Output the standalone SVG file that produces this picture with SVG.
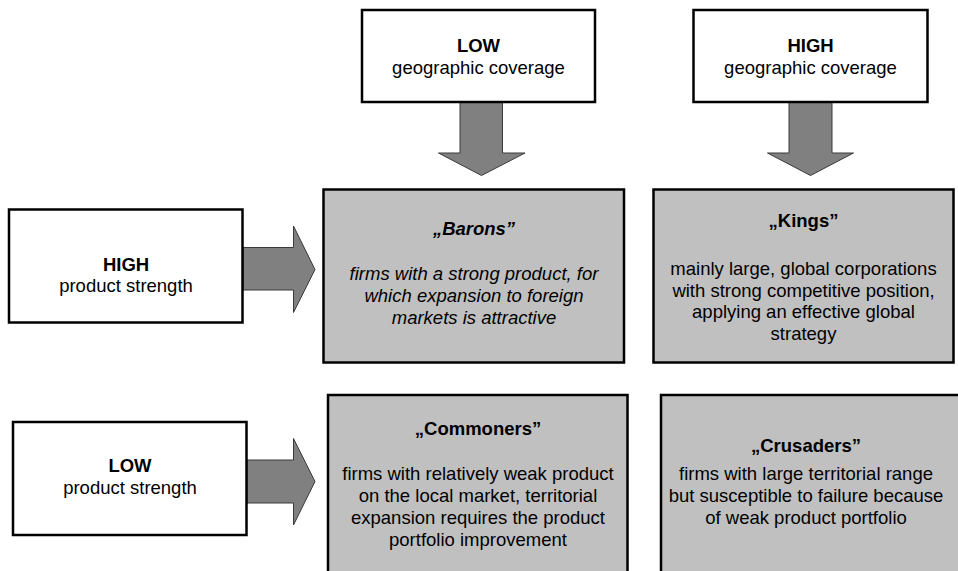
<svg xmlns="http://www.w3.org/2000/svg" width="958" height="571" viewBox="0 0 958 571">
  <style>
    .axis { fill: #ffffff; stroke: #000000; stroke-width: 2.5; }
    .cell { fill: #c0c0c0; stroke: #000000; stroke-width: 2.5; }
    .arrow { fill: #808080; stroke: #3a3a3a; stroke-width: 1; }
    text { font-family: "Liberation Sans", Arial, sans-serif; font-size: 18.5px; fill: #000000; text-anchor: middle; }
    .b { font-weight: bold; }
    .i { font-style: italic; }
  </style>
  <rect width="958" height="571" fill="#ffffff"/>

  <!-- connectors: wide block arrows -->
  <g id="connectors">
    <path class="arrow" d="M460,102 H502.5 V153 H525 L481.5,175.5 L438.5,153 H460 Z"/>
    <path class="arrow" d="M789,102 H832 V153 H853.5 L810.5,175.5 L767.5,153 H789 Z"/>
    <path class="arrow" d="M243,247.5 H293.5 V226 L315,269.5 L293.5,312.5 V290 H243 Z"/>
    <path class="arrow" d="M247,460 H293.5 V438.5 L315,481.5 L293.5,525 V503 H247 Z"/>
  </g>

  <g id="low-geo">
    <rect class="axis" x="362" y="10" width="233" height="92"/>
    <text class="b" x="478.5" y="51.5">LOW</text>
    <text x="478.5" y="74">geographic coverage</text>
  </g>

  <g id="high-geo">
    <rect class="axis" x="693.5" y="10" width="234" height="92"/>
    <text class="b" x="810.5" y="51.5">HIGH</text>
    <text x="810.5" y="74">geographic coverage</text>
  </g>

  <g id="high-product">
    <rect class="axis" x="9" y="209.5" width="233.5" height="113"/>
    <text class="b" x="126" y="270.5">HIGH</text>
    <text x="126" y="292">product strength</text>
  </g>

  <g id="low-product">
    <rect class="axis" x="13" y="422" width="233.5" height="113"/>
    <text class="b" x="130" y="471.5">LOW</text>
    <text x="130" y="493.5">product strength</text>
  </g>

  <g id="barons">
    <rect class="cell" x="323.5" y="189.5" width="300.5" height="173"/>
    <text class="b i" x="474" y="235">„Barons”</text>
    <text class="i" x="474" y="280">firms with a strong product, for</text>
    <text class="i" x="474" y="302">which expansion to foreign</text>
    <text class="i" x="474" y="324">markets is attractive</text>
  </g>

  <g id="kings">
    <rect class="cell" x="653.5" y="189.5" width="300" height="173"/>
    <text class="b" x="803.5" y="227">„Kings”</text>
    <text x="803.5" y="275">mainly large, global corporations</text>
    <text x="803.5" y="296.5">with strong competitive position,</text>
    <text x="803.5" y="318">applying an effective global</text>
    <text x="803.5" y="339.5">strategy</text>
  </g>

  <g id="commoners">
    <rect class="cell" x="328" y="395" width="299.5" height="200"/>
    <text class="b" x="478" y="435">„Commoners”</text>
    <text x="478" y="480">firms with relatively weak product</text>
    <text x="478" y="502">on the local market, territorial</text>
    <text x="478" y="524">expansion requires the product</text>
    <text x="478" y="545.5">portfolio improvement</text>
  </g>

  <g id="crusaders">
    <rect class="cell" x="661" y="395" width="320" height="200"/>
    <text class="b" x="806" y="451.5">„Crusaders”</text>
    <text x="806" y="480">firms with large territorial range</text>
    <text x="806" y="502">but susceptible to failure because</text>
    <text x="806" y="524">of weak product portfolio</text>
  </g>
</svg>
